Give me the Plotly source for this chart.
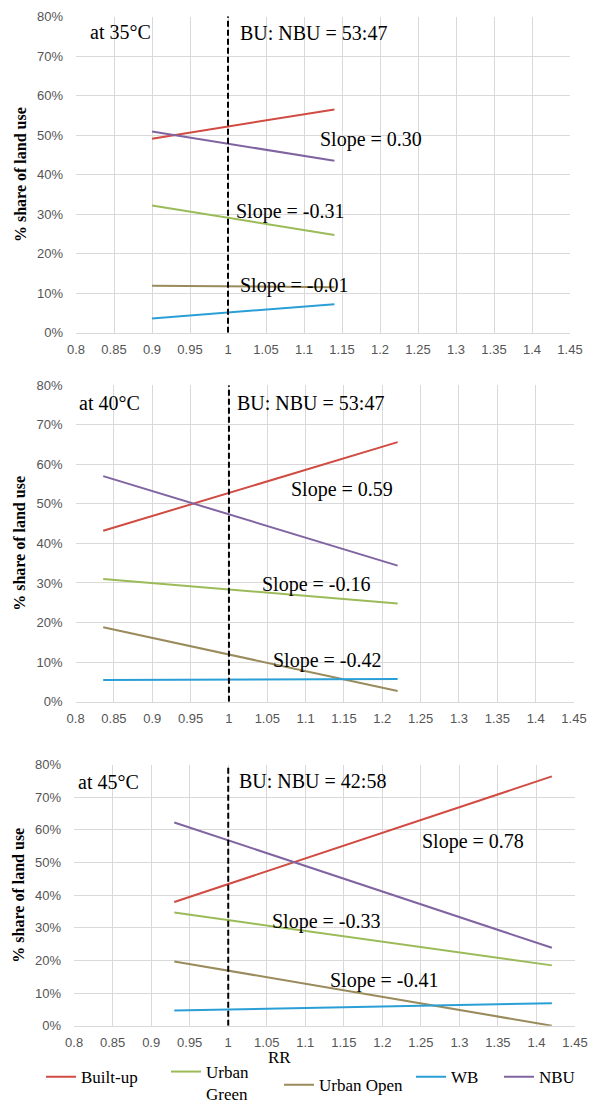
import plotly.graph_objects as go

# ---------------- data ----------------
series_names = ["Built-up", "Urban Green", "Urban Open", "WB", "NBU"]
legend_labels = ["Built-up", "Urban<br>Green", "Urban Open", "WB", "NBU"]

panel_labels = ["at 35°C", "at 40°C", "at 45°C"]
ratio_labels = ["BU: NBU = 53:47", "BU: NBU = 53:47", "BU: NBU = 42:58"]

# RR (x) end points of each panel's lines
rr_35 = [0.90, 1.14]
rr_40 = [0.836, 1.22]
rr_45 = [0.93, 1.42]

# % share of land use, 35°C
builtup_35 = [49.1, 56.5]
urbangreen_35 = [32.2, 24.7]
urbanopen_35 = [11.9, 11.5]
wb_35 = [3.6, 7.2]
nbu_35 = [50.9, 43.5]

# % share of land use, 40°C
builtup_40 = [43.2, 65.6]
urbangreen_40 = [31.0, 24.8]
urbanopen_40 = [18.8, 2.7]
wb_40 = [5.5, 5.75]
nbu_40 = [57.0, 34.4]

# % share of land use, 45°C
builtup_45 = [37.9, 76.4]
urbangreen_45 = [34.7, 18.5]
urbanopen_45 = [19.7, 0.0]
wb_45 = [4.65, 6.9]
nbu_45 = [62.3, 23.9]

slopes_35 = ["0.30", "-0.31", "-0.01"]
slopes_40 = ["0.59", "-0.16", "-0.42"]
slopes_45 = ["0.78", "-0.33", "-0.41"]

x_ticks = [0.8, 0.85, 0.9, 0.95, 1, 1.05, 1.1, 1.15, 1.2, 1.25, 1.3, 1.35, 1.4, 1.45]
y_ticks = [0, 10, 20, 30, 40, 50, 60, 70, 80]
y_ticktext = ["0%", "10%", "20%", "30%", "40%", "50%", "60%", "70%", "80%"]
ref_rr = 1.0

panels = [
    dict(x=rr_35, ys=[builtup_35, urbangreen_35, urbanopen_35, wb_35, nbu_35], slopes=slopes_35),
    dict(x=rr_40, ys=[builtup_40, urbangreen_40, urbanopen_40, wb_40, nbu_40], slopes=slopes_40),
    dict(x=rr_45, ys=[builtup_45, urbangreen_45, urbanopen_45, wb_45, nbu_45], slopes=slopes_45),
]

# ---------------- style / layout ----------------
colors = ["#D14B42", "#9BBB59", "#9A8B5C", "#2A9FD6", "#8064A2"]
W, H = 596, 1112
# plot-area boxes in pixels (left, right, top, bottom)
boxes = [(76.0, 570.0, 16.7, 336.0), (75.6, 574.0, 389.0, 708.7), (74.1, 575.0, 772.3, 1036.0)]
# label placements (data coords): temp label, ratio label, three slope labels
label_pos = [
    dict(temp=(0.816, 76.2), ratio=(1.013, 75.8), slopes=[(1.118, 48.9), (1.008, 30.7), (1.0135, 11.9)]),
    dict(temp=(0.8015, 75.4), ratio=(1.008, 75.6), slopes=[(1.078, 53.7), (1.040, 29.7), (1.0545, 10.5)]),
    dict(temp=(0.8024, 74.8), ratio=(1.0115, 74.9), slopes=[(1.2493, 56.4), (1.0545, 32.0), (1.130, 14.0)]),
]
dash_tops = [81.8, 80, 80]
# legend entry placement in pixels: (left of box, vertical centre)
legend_boxes = [(41, 1088), (166, 1094), (279, 1096), (411, 1088), (499, 1088)]

serif = "Liberation Serif, Times New Roman, serif"
narrow = "Liberation Sans Narrow, Arial Narrow, Liberation Sans, Arial, sans-serif"
grid = "#d9d9d9"

fig = go.Figure()
annotations = []
shapes = []
legend_ids = ["legend", "legend2", "legend3", "legend4", "legend5"]

for i, p in enumerate(panels):
    n = i + 1
    xa = "x" if n == 1 else f"x{n}"
    ya = "y" if n == 1 else f"y{n}"
    for k, name in enumerate(series_names):
        fig.add_trace(go.Scatter(
            x=p["x"], y=p["ys"][k], mode="lines", name=legend_labels[k],
            legendgroup=name, showlegend=(n == 3), legend=legend_ids[k],
            line=dict(color=colors[k], width=2),
            xaxis=xa, yaxis=ya, hoverinfo="skip",
        ))
    l, r, t, b = boxes[i]
    axis_x = dict(
        domain=[l / W, r / W], range=[0.8, 1.45], tickvals=x_ticks,
        showgrid=True, gridcolor=grid, gridwidth=1,
        showline=True, linecolor=grid, linewidth=1, zeroline=False,
        ticks="", tickfont=dict(family=narrow, size=13, color="#555555"),
        ticklabelstandoff=5, anchor=ya, automargin=False,
    )
    axis_y = dict(
        domain=[1 - b / H, 1 - t / H], range=[0, 80], tickvals=y_ticks, ticktext=y_ticktext,
        showgrid=True, gridcolor=grid, gridwidth=1, zeroline=False, showline=False,
        ticks="", tickfont=dict(family=narrow, size=13, color="#555555"),
        ticklabelstandoff=12, anchor=xa, automargin=False,
        title=dict(text="<b>% share of land use</b>", font=dict(family=serif, size=16, color="#000000"),
                   standoff=6),
    )
    fig.layout["xaxis" if n == 1 else f"xaxis{n}"] = axis_x
    fig.layout["yaxis" if n == 1 else f"yaxis{n}"] = axis_y

    shapes.append(dict(type="line", xref=xa, yref=ya, x0=ref_rr, x1=ref_rr, y0=0, y1=dash_tops[i],
                       line=dict(color="#000000", width=2, dash="6px,3px")))

    lp = label_pos[i]
    txt_font = dict(family=serif, size=20, color="#000000")
    annotations.append(dict(xref=xa, yref=ya, x=lp["temp"][0], y=lp["temp"][1], text=panel_labels[i],
                            showarrow=False, xanchor="left", yanchor="middle", font=txt_font))
    annotations.append(dict(xref=xa, yref=ya, x=lp["ratio"][0], y=lp["ratio"][1], text=ratio_labels[i],
                            showarrow=False, xanchor="left", yanchor="middle", font=txt_font))
    for j, s in enumerate(p["slopes"]):
        annotations.append(dict(xref=xa, yref=ya, x=lp["slopes"][j][0], y=lp["slopes"][j][1],
                                text=f"Slope = {s}", showarrow=False, xanchor="left",
                                yanchor="middle", font=txt_font))

# x-axis title of the last panel
annotations.append(dict(xref="paper", yref="paper", x=279 / W, y=1 - 1068 / H, text="RR",
                        showarrow=False, xanchor="center", yanchor="middle",
                        font=dict(family=serif, size=17, color="#000000")))

layout_legends = {}
for k, lid in enumerate(legend_ids):
    lx, ly = legend_boxes[k]
    layout_legends[lid] = dict(
        orientation="v", x=lx / W, xanchor="left", y=1 - ly / H, yanchor="middle",
        font=dict(family=serif, size=17, color="#000000"), valign="top",
        bgcolor="rgba(0,0,0,0)", borderwidth=0, itemclick=False, itemdoubleclick=False,
    )

fig.update_layout(
    width=W, height=H,
    margin=dict(l=0, r=0, t=0, b=0),
    paper_bgcolor="#ffffff", plot_bgcolor="#ffffff",
    shapes=shapes, annotations=annotations,
    showlegend=True,
    **layout_legends,
)

fig.write_html(
    "out.html",
    config={"displayModeBar": False},
    post_script="document.body.style.margin='0px';document.body.style.overflow='hidden';",
)
